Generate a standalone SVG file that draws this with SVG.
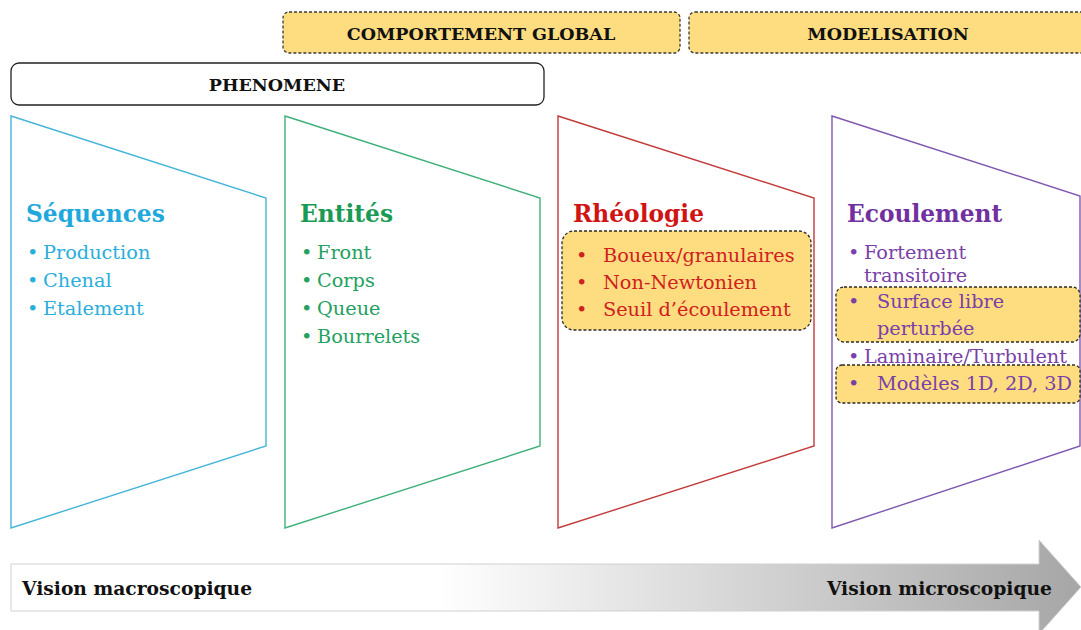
<svg xmlns="http://www.w3.org/2000/svg" width="1081" height="630" viewBox="0 0 1081 630">
<style>
text{font-family:"DejaVu Serif","Liberation Serif",serif;}
.ban{fill:#fedd80;stroke:#3a3a3a;stroke-width:1.3;stroke-dasharray:3 2;}
.hl{fill:#fedd80;stroke:#2a2a2a;stroke-width:1.3;stroke-dasharray:3 2;}
.bt{font-weight:bold;font-size:17.5px;fill:#111;text-anchor:middle;}
.ttl{font-weight:bold;font-size:23.3px;}
.it{font-size:19.3px;}
.trap{fill:none;stroke-width:1.4;}
</style>
<defs>
<linearGradient id="gr" x1="0" y1="0" x2="1" y2="0">
<stop offset="0" stop-color="#ffffff"/>
<stop offset="0.4" stop-color="#ffffff"/>
<stop offset="1" stop-color="#a6a6a6"/>
</linearGradient>
</defs>
<g id="comportement">
<rect class="ban" x="283" y="12" width="397" height="41" rx="6"/>
<text class="bt" x="481" y="40">COMPORTEMENT GLOBAL</text>
</g>
<g id="modelisation">
<rect class="ban" x="689" y="12" width="400" height="41" rx="6"/>
<text class="bt" x="888" y="40">MODELISATION</text>
</g>
<g id="phenomene">
<rect x="11" y="63" width="533" height="42" rx="8" fill="#fff" stroke="#222" stroke-width="1.3"/>
<text class="bt" x="277" y="91">PHENOMENE</text>
</g>
<g id="sequences">
<polygon class="trap" stroke="#45b5d9" points="11,116 266,198 266,446 11,528"/>
<text class="ttl" x="26" y="222" fill="#1fa8dc">Séquences</text>
<g class="it" fill="#2aaedc">
<text x="27" y="259">•</text><text x="43" y="259">Production</text>
<text x="27" y="287">•</text><text x="43" y="287">Chenal</text>
<text x="27" y="315">•</text><text x="43" y="315">Etalement</text>
</g>
</g>
<g id="entites">
<polygon class="trap" stroke="#3fb07a" points="285,116 540,198 540,446 285,528"/>
<text class="ttl" x="300" y="222" fill="#1a9a55">Entités</text>
<g class="it" fill="#24a060">
<text x="301" y="259">•</text><text x="317" y="259">Front</text>
<text x="301" y="287">•</text><text x="317" y="287">Corps</text>
<text x="301" y="315">•</text><text x="317" y="315">Queue</text>
<text x="301" y="343">•</text><text x="317" y="343">Bourrelets</text>
</g>
</g>
<g id="rheologie">
<polygon class="trap" stroke="#c23b3b" points="558,116 814,198 814,446 558,528"/>
<text class="ttl" x="573" y="222" fill="#d01414">Rhéologie</text>
<rect class="hl" x="562" y="231" width="249" height="99" rx="12"/>
<g class="it" fill="#d02020">
<text x="576" y="262">•</text><text x="603" y="262">Boueux/granulaires</text>
<text x="576" y="289">•</text><text x="603" y="289">Non-Newtonien</text>
<text x="576" y="316">•</text><text x="603" y="316">Seuil d’écoulement</text>
</g>
</g>
<g id="ecoulement">
<polygon class="trap" stroke="#8057b0" points="832,116 1080,196 1080,446 832,528"/>
<text class="ttl" x="847" y="222" fill="#7030a0">Ecoulement</text>
<rect class="hl" x="836" y="287" width="244" height="55" rx="8"/>
<rect class="hl" x="836" y="365" width="244" height="38" rx="6"/>
<g class="it" fill="#7a3fa8">
<text x="848" y="259">•</text><text x="864" y="259">Fortement</text>
<text x="864" y="282">transitoire</text>
<text x="848" y="308">•</text><text x="877" y="308">Surface libre</text>
<text x="877" y="335">perturbée</text>
<text x="848" y="363">•</text><text x="864" y="363">Laminaire/Turbulent</text>
<text x="848" y="390">•</text><text x="877" y="390">Modèles 1D, 2D, 3D</text>
</g>
</g>
<g id="arrow">
<polygon points="11,564 1039,564 1039,540 1081,587 1039,634 1039,611 11,611" fill="url(#gr)" stroke="#d0d0d0" stroke-width="1"/>
<text x="22" y="595" font-weight="bold" font-size="18.7" fill="#111">Vision macroscopique</text>
<text x="1052" y="595" font-weight="bold" font-size="18.7" fill="#111" text-anchor="end">Vision microscopique</text>
</g>
</svg>
